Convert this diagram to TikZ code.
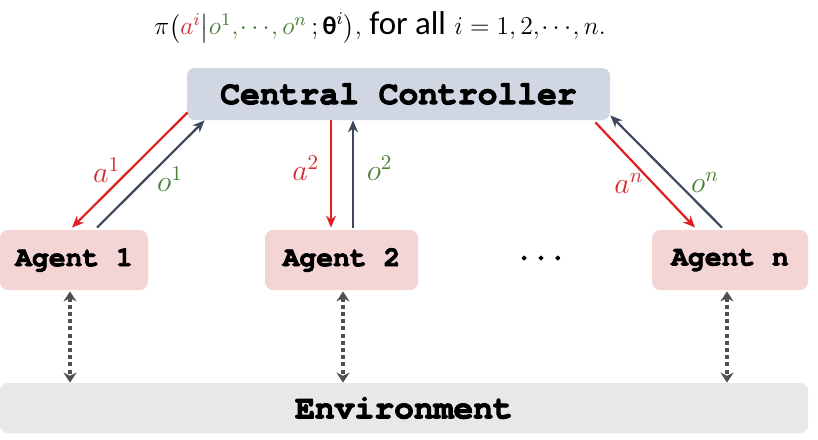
\RequirePackage{fix-cm}
\documentclass[tikz,border=0pt]{standalone}
\usepackage{amsmath}
\usepackage{fontspec}
\setmonofont{texgyrecursor}[Extension=.otf,UprightFont=*-regular,BoldFont=*-bold,BoldFeatures={FakeBold=3}]
\newfontfamily\calibrifont{Carlito}
\usetikzlibrary{arrows.meta,calc}
\definecolor{ctrlfill}{RGB}{208,214,226}
\definecolor{agentfill}{RGB}{244,213,213}
\definecolor{envfill}{RGB}{232,232,232}
\definecolor{actred}{RGB}{222,32,32}
\definecolor{obsblue}{RGB}{62,72,92}
\definecolor{labred}{RGB}{212,44,44}
\definecolor{labgreen}{RGB}{72,128,52}
\definecolor{envgray}{RGB}{80,80,80}
\begin{document}
\begin{tikzpicture}[x=0.5pt,y=-0.5pt,>={Stealth[length=6pt,width=5pt]},line join=round,
    box/.style={rounded corners=4pt,inner sep=0pt,font=\ttfamily\bfseries},
    act/.style={->,actred,line width=1.1pt},
    obs/.style={->,obsblue,line width=1.1pt},
    lab/.style={font=\fontsize{15}{17}\selectfont},
    envlink/.style={<->,envgray,line width=1.6pt,dash pattern=on 2pt off 1.6pt,>={Stealth[length=5pt,width=6.5pt]}}]
    \fill[white] (0,0) rectangle (818,439);
    \node[font=\fontsize{12.8}{15}\selectfont] (pol) at (380,28) {$\pi\bigl(\textcolor{labred}{a^{i}}\big|\textcolor{labgreen}{o^{1},\mkern-2mu\cdots\mkern-2mu,o^{n}}\,;\text{\calibrifont\bfseries θ}^{i}\bigr)$,{\calibrifont\fontsize{16.5}{18}\selectfont{} for all} $i=1,2,\mkern-2mu\cdots\mkern-2mu,n.$};
    \node[box,fill=ctrlfill,minimum width=211.5pt,minimum height=26pt,font=\ttfamily\bfseries\fontsize{16.5}{18}\selectfont] (cc) at (398.5,94) {Central Controller};
    \node[box,fill=agentfill,minimum width=74pt,minimum height=30pt,font=\ttfamily\bfseries\fontsize{14}{16}\selectfont] (ag1) at (74,260) {Agent 1};
    \node[box,fill=agentfill,minimum width=76.5pt,minimum height=30pt,font=\ttfamily\bfseries\fontsize{14}{16}\selectfont] (ag2) at (341.5,260) {Agent 2};
    \node[box,fill=agentfill,minimum width=78pt,minimum height=30pt,font=\ttfamily\bfseries\fontsize{14}{16}\selectfont] (agn) at (730,260) {Agent n};
    \node[font=\ttfamily\bfseries\fontsize{14}{16}\selectfont] (dots) at (541,258) {...};
    \node[box,fill=envfill,minimum width=404pt,minimum height=25pt,font=\ttfamily\bfseries\fontsize{16.5}{18}\selectfont] (env) at (404,408) {Environment};
    \draw[act] ($(cc.south west)+(1,-8)$) -- ($(ag1.north)+(-2,-2)$) node[midway,left=1pt,lab,labred]{$a^{1}$};
    \draw[obs] ($(ag1.north)+(23,-2)$) -- ($(cc.south west)+(18,0)$) node[pos=0.45,right=2pt,lab,labgreen]{$o^{1}$};
    \draw[act] ($(cc.south)+(-67.5,0)$) -- ($(ag2.north)+(-10.5,-2)$) node[pos=0.45,left=2pt,lab,labred]{$a^{2}$};
    \draw[obs] ($(ag2.north)+(11.5,-2)$) -- ($(cc.south)+(-45.5,0)$) node[pos=0.55,right=3pt,lab,labgreen]{$o^{2}$};
    \draw[act] ($(cc.south east)+(-15,2)$) -- ($(agn.north)+(-35,-2)$) node[pos=0.58,left=1pt,lab,labred]{$a^{n}$};
    \draw[obs] ($(agn.north)+(-8,-2)$) -- ($(cc.south east)+(0,-5)$) node[pos=0.4,right=3pt,lab,labgreen]{$o^{n}$};
    \foreach \ag/\dx in {ag1/-4,ag2/1.5,agn/-3}{
    \coordinate (top) at ($(\ag.south)+(\dx,1)$);
    \draw[envlink] (top) -- (top |- env.north);
    }
\end{tikzpicture}
\end{document}
